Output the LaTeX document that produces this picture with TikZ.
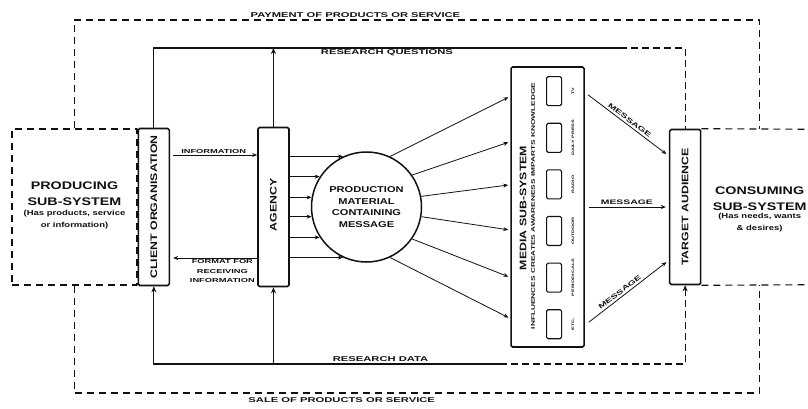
\documentclass[tikz,border=0pt]{standalone}
\usepackage{fontspec}
\setmainfont{Liberation Sans}[FakeStretch=1.3]
\newfontfamily\widelabelfont{Liberation Sans}[FakeStretch=1.6]
\usepackage{tikz}
\usetikzlibrary{arrows.meta, positioning, calc}
\definecolor{ink}{HTML}{111111}
\tikzset{
  % Sub-system areas
  subsystem/.style={
    rectangle, draw=ink, line width=1.1pt, dash pattern=on 7pt off 5pt,
    inner sep=0pt
  },
  systitle/.style={font=\fontsize{11}{16}\selectfont\bfseries, text=ink, align=center, inner sep=0pt},
  sysnote/.style={font=\fontsize{7.3}{12}\selectfont\bfseries, text=ink, align=center, inner sep=0pt},
  % Solid unit boxes
  unit/.style={
    rectangle, draw=ink, line width=1.6pt, rounded corners=1.5pt,
    inner sep=0pt, minimum width=31pt
  },
  unitlabel/.style={rotate=90, font=\fontsize{9.5}{10}\selectfont\bfseries, text=ink, inner sep=0pt},
  channel/.style={
    rectangle, draw=ink, line width=1.1pt, rounded corners=1.5pt,
    minimum width=15pt, minimum height=29pt, inner sep=0pt
  },
  channellabel/.style={rotate=90, font=\widelabelfont\fontsize{3.4}{4}\selectfont\bfseries, text=ink, inner sep=0pt},
  % Arrow styles
  flow/.style={-{Stealth[length=5pt, width=4pt]}, line width=0.8pt, color=ink},
  feedback/.style={line width=1.2pt, color=ink},
  money/.style={line width=1.1pt, color=ink, dash pattern=on 7pt off 5pt},
  % Labels
  flowlabel/.style={font=\widelabelfont\fontsize{5.8}{9.5}\selectfont\bfseries, text=ink, inner sep=1.5pt},
  msglabel/.style={font=\widelabelfont\fontsize{6.5}{7}\selectfont\bfseries, text=ink, inner sep=2pt},
  linklabel/.style={font=\widelabelfont\fontsize{7}{8}\selectfont\bfseries, text=ink, inner sep=1.5pt},
}

\begin{document}
\begin{tikzpicture}[x=1pt, y=-1pt, line join=round]
  \useasboundingbox (0,0) rectangle (808,409);
  \clip (0,0) rectangle (808,409);

  % Levels of the long connectors
  \coordinate (payline) at (0,20);
  \coordinate (rqline) at (0,48);
  \coordinate (rqbreak) at (620,48);
  \coordinate (rdline) at (0,364);
  \coordinate (rdbreak) at (500,364);
  \coordinate (saleline) at (0,393);

  % Producing side
  \node[subsystem, minimum width=125pt, minimum height=156pt] (producing) at (74.5,207) {};
  \node[systitle] (producingtitle) at ([yshift=13pt]producing.center) {PRODUCING\\SUB-SYSTEM};
  \node[sysnote] (producingnote) at ([yshift=-13pt]producing.center) {(Has products, service\\or information)};
  \node[unit, minimum height=157pt, right=0pt of producing] (client) {};
  \node[unitlabel] (clientlabel) at (client) {CLIENT ORGANISATION};

  % Agency and production material
  \node[unit, minimum height=159pt, right=87pt of client] (agency) {};
  \node[unitlabel] (agencylabel) at ([yshift=2pt]agency.center) {AGENCY};
  \node[circle, draw=ink, line width=1.5pt, minimum size=110pt, inner sep=0pt, right=21pt of agency,
        font=\fontsize{8.5}{11.7}\selectfont\bfseries, align=center, text=ink] (prod)
    {PRODUCTION\\MATERIAL\\CONTAINING\\MESSAGE};

  % Media sub-system
  \node[unit, minimum width=73pt, minimum height=280pt, right=88pt of prod] (media) {};
  \node[unitlabel] (mediatitle) at ($(media.center)+(-24.5,1)$) {MEDIA SUB-SYSTEM};
  \node[rotate=90, font=\widelabelfont\fontsize{5.2}{6}\selectfont\bfseries, text=ink, inner sep=0pt] (mediaroles)
    at ($(media.center)+(-14.5,-1)$) {INFLUENCES CREATES AWARENESS IMPARTS KNOWLEDGE};
  \foreach \lab [count=\i from 0] in {TV, DAILY PRESS, RADIO, OUTDOOR, PERIODICALS, ETC.} {
    \node[channel] (chan\i) at ($(media.north)+(6.5,25+46.6*\i)$) {};
    \node[channellabel] (chanlabel\i) at ($(chan\i)+(19,0)$) {\lab};
  }

  % Consuming side
  \node[unit, minimum height=155pt, right=84pt of media] (target) {};
  \node[unitlabel] (targetlabel) at (target) {TARGET AUDIENCE};
  \node[minimum width=116pt, minimum height=155pt, inner sep=0pt, right=0pt of target] (consuming) {};
  \node[systitle] (consumingtitle) at ([yshift=8pt]consuming.center) {CONSUMING\\SUB-SYSTEM};
  \node[sysnote] (consumingnote) at ([yshift=-15.5pt]consuming.center) {(Has needs, wants\\\& desires)};
  \draw[money] (target.north east) -- (consuming.north east);
  \draw[money] (target.south east) -- (consuming.south east);

  % Client and agency
  \draw[flow, shorten <=3pt] ([yshift=52pt]client.east) -- ([yshift=52pt]agency.west)
    node[flowlabel, midway, above] (infolabel) {INFORMATION};
  \draw[flow, shorten >=3pt] ([yshift=-51pt]agency.west) -- ([yshift=-51pt]client.east)
    node[flowlabel, pos=0.4, below, align=center] (formatlabel) {FORMAT FOR\\RECEIVING\\INFORMATION};

  % Agency to production material to media
  \foreach \a in {115, 147, 170, 190, 213, 245}
    \draw[flow] (prod.\a -| agency.east) -- (prod.\a);
  \foreach \a/\f in {65/0.107, 35/0.268, 11/0.421, -10/0.582, -35/0.75, -65/0.896}
    \draw[flow, shorten >=2pt] (prod.\a) -- ($(media.north west)!\f!(media.south west)$);

  % Messages
  \draw[flow, shorten <=4pt, shorten >=3pt] ($(media.north east)!0.093!(media.south east)$)
    -- ($(target.north west)!0.174!(target.south west)$) node[msglabel, midway, above, sloped] (msgtop) {MESSAGE};
  \draw[flow, shorten <=4pt, shorten >=3pt] (media.east) -- (target.west)
    node[msglabel, midway, above] (msgmid) {MESSAGE};
  \draw[flow, shorten <=5pt, shorten >=3pt] ($(media.north east)!0.92!(media.south east)$)
    -- ($(target.north west)!0.84!(target.south west)$) node[msglabel, pos=0.45, above, sloped] (msgbot) {MESSAGE};

  % Research loop
  \draw[feedback] (client.north) -- (client.north |- rqline) -- (rqbreak)
    node[linklabel, pos=0.5, below] (rqlabel) {RESEARCH QUESTIONS};
  \draw[feedback, dash pattern=on 7pt off 4pt] (rqbreak) -- (target.north |- rqline) -- (target.north);
  \draw[feedback, -{Stealth[length=6pt, width=5pt]}] (agency.north) -- (agency.north |- rqline);
  \draw[feedback, dash pattern=on 7pt off 4pt, {Stealth[length=6pt, width=5pt]}-] (target.south) -- (target.south |- rdline) -- (rdbreak);
  \draw[feedback, -{Stealth[length=6pt, width=5pt]}] (rdbreak) -- (client.south |- rdline)
    node[linklabel, pos=0.345, above] (rdlabel) {RESEARCH DATA} -- (client.south);
  \draw[feedback, -{Stealth[length=6pt, width=5pt]}] (agency.south |- rdline) -- (agency.south);

  % Payment and sale
  \draw[money] (producing.north) -- (producing.north |- payline) -- (consuming.north |- payline)
    node[linklabel, pos=0.41, above] (paylabel) {PAYMENT OF PRODUCTS OR SERVICE} -- (consuming.north);
  \draw[money] (producing.south) -- (producing.south |- saleline) -- (consuming.south |- saleline)
    node[linklabel, pos=0.39, below=2.5pt] (salelabel) {SALE OF PRODUCTS OR SERVICE} -- (consuming.south);

\end{tikzpicture}
\end{document}
